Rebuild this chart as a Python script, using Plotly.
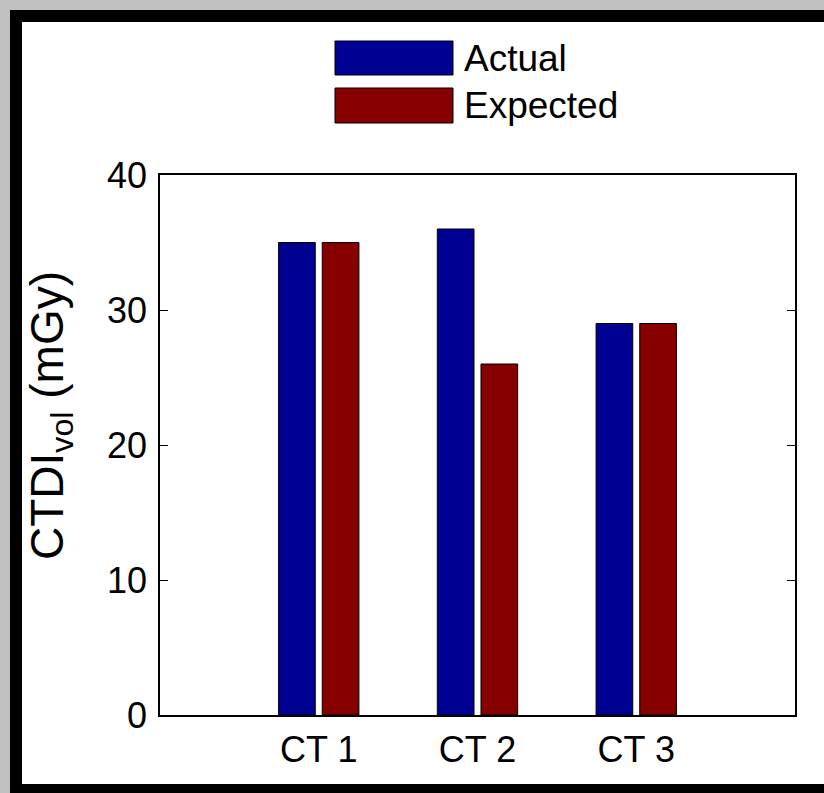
import plotly.graph_objects as go

# ---- data ----
categories = ["CT 1", "CT 2", "CT 3"]
actual = [35, 36, 29]
expected = [35, 26, 29]
series_names = ["Actual", "Expected"]
y_ticks = [0, 10, 20, 30, 40]

# ---- style ----
W, H = 824, 793
ML, MR, MT, MB = 160, 29, 175, 78
PW, PH = W - ML - MR, H - MT - MB
BLUE = "#000092"
RED = "#860000"
FONT = "Liberation Sans, Arial, Helvetica, sans-serif"


def px_x(px):
    return (px - ML) / PW


def px_y(py):
    return (H - MB - py) / PH


fig = go.Figure()
fig.add_trace(go.Bar(x=categories, y=actual, name=series_names[0],
                     marker=dict(color=BLUE, line=dict(color="black", width=1)),
                     showlegend=False))
fig.add_trace(go.Bar(x=categories, y=expected, name=series_names[1],
                     marker=dict(color=RED, line=dict(color="black", width=1)),
                     showlegend=False))

shapes = []
# outer gray / black frame and white panel
shapes.append(dict(type="rect", xref="paper", yref="paper", layer="below",
                   x0=px_x(0), x1=px_x(W), y0=px_y(0), y1=px_y(H),
                   fillcolor="#c0c0c0", line=dict(width=0)))
shapes.append(dict(type="rect", xref="paper", yref="paper", layer="below",
                   x0=px_x(10), x1=px_x(W + 20), y0=px_y(10), y1=px_y(H + 20),
                   fillcolor="black", line=dict(width=0)))
shapes.append(dict(type="rect", xref="paper", yref="paper", layer="below",
                   x0=px_x(22), x1=px_x(W + 20), y0=px_y(22), y1=px_y(784),
                   fillcolor="white", line=dict(width=0)))
# legend swatches
legend_colors = [BLUE, RED]
sw_y = [(41, 75), (88, 123)]
text_y = [58, 105]
annotations = []
for name, col, (ya, yb), ty in zip(series_names, legend_colors, sw_y, text_y):
    shapes.append(dict(type="rect", xref="paper", yref="paper",
                       x0=px_x(335), x1=px_x(453), y0=px_y(yb), y1=px_y(ya),
                       fillcolor=col, line=dict(color="black", width=1)))
    annotations.append(dict(xref="paper", yref="paper", x=px_x(462), y=px_y(ty),
                            text=name, showarrow=False, xanchor="left", yanchor="middle",
                            font=dict(size=37, color="black", family=FONT)))

# y-axis label (placed to match the reference, slightly above the axis centre)
annotations.append(dict(xref="paper", yref="paper", x=px_x(50), y=px_y(416),
                        text="CTDI<sub>vol</sub> (mGy)", textangle=-90, showarrow=False,
                        xanchor="center", yanchor="middle",
                        font=dict(size=46, color="black", family=FONT)))

fig.update_layout(
    width=W, height=H,
    margin=dict(l=ML, r=MR, t=MT, b=MB, pad=0),
    paper_bgcolor="white", plot_bgcolor="white",
    font=dict(family=FONT, color="black", size=36),
    barmode="group", bargap=0.45, bargroupgap=0.16,
    shapes=shapes, annotations=annotations,
    showlegend=False,
)
fig.update_xaxes(range=[-1, 3], showline=True, linecolor="black", linewidth=1.5,
                 mirror=True, ticks="",
                 tickfont=dict(size=36, family=FONT, color="black"), ticklabelstandoff=2,
                 showgrid=False, zeroline=False, automargin=False)
fig.update_yaxes(range=[0, 40], tickvals=y_ticks, showline=True, linecolor="black",
                 linewidth=1.5, mirror="ticks", ticks="inside", ticklen=8,
                 tickcolor="black", tickfont=dict(size=36, family=FONT, color="black"),
                 ticklabelstandoff=4,
                 showgrid=False, zeroline=False, automargin=False)

fig.write_html("out.html", config={"displayModeBar": False},
               post_script="document.body.style.margin='0';document.body.style.overflow='hidden';")
